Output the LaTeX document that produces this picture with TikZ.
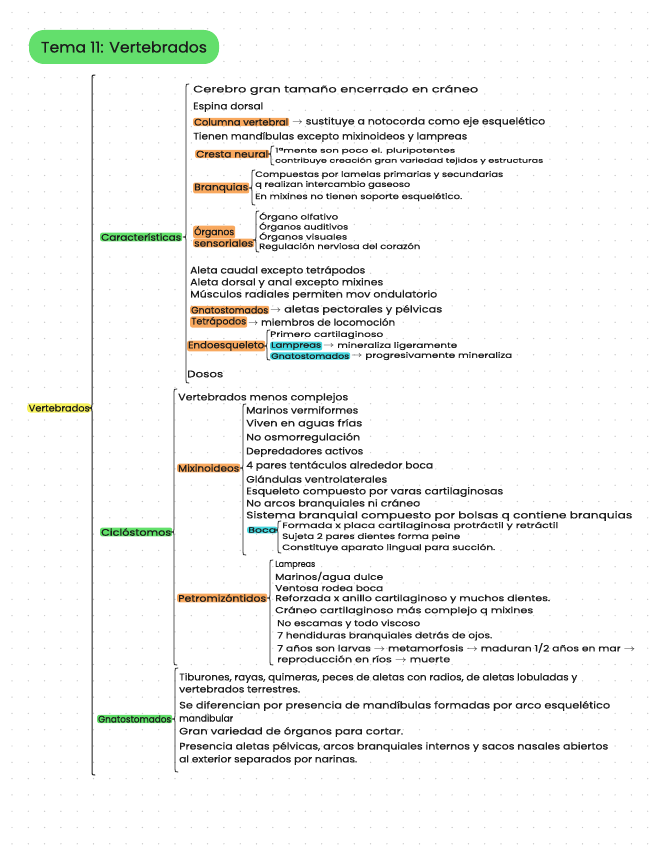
\documentclass[tikz,border=0pt]{standalone}
\usepackage{fontspec}
\setmainfont{Poppins}[FakeBold=0.5]
\usepackage{graphicx}
\definecolor{ink}{HTML}{1C1C1C}
\definecolor{dotc}{HTML}{C9C9C9}
\definecolor{hlorange}{HTML}{F8A85E}
\definecolor{hlgreen}{HTML}{62E06A}
\definecolor{hlcyan}{HTML}{45D8E0}
\definecolor{hlyellow}{HTML}{F6F25C}
\definecolor{titlegreen}{HTML}{63DF6C}
\tikzset{
  txt/.style={anchor=west, inner sep=0pt, text=ink, font=\fontsize{9.5}{11}\selectfont},
  smalltxt/.style={font=\fontsize{7.8}{9}\selectfont},
  tinytxt/.style={font=\fontsize{6.6}{8}\selectfont},
  midtxt/.style={font=\fontsize{8.6}{10}\selectfont},
  hlo/.style={fill=hlorange, inner xsep=1pt, inner ysep=0.6pt, rounded corners=2pt},
  hlg/.style={fill=hlgreen, inner xsep=1pt, inner ysep=0.6pt, rounded corners=2pt},
  hlc/.style={fill=hlcyan, inner xsep=1pt, inner ysep=0.6pt, rounded corners=2pt},
  hly/.style={fill=hlyellow, inner xsep=1.5pt, inner ysep=1pt, rounded corners=3pt},
  brc/.style={draw=ink, line width=0.8pt, line cap=round, line join=round},
  titlebox/.style={fill=titlegreen, rounded corners=15pt, minimum width=190pt, minimum height=34pt, inner sep=0pt, text=ink, font=\fontsize{15}{17}\selectfont}
}
\newcommand{\tline}[5][]{\node[txt,#1] (#2) at (#3) {\resizebox{#4pt}{\height}{#5}};}
\newcommand{\brc}[5][]{\draw[brc,#1] (#2+3,#3) .. controls (#2,#3) .. (#2,#3+3) -- (#2,#4-3) .. controls (#2,#4) .. (#2-3,#4) .. controls (#2,#4) .. (#2,#4+3) -- (#2,#5-3) .. controls (#2,#5) .. (#2+3,#5);}
\begin{document}
\begin{tikzpicture}[x=1pt,y=-1pt]
\useasboundingbox (0,0) rectangle (656,848);
\fill[white] (0,0) rectangle (656,848);
\foreach \i in {0,...,39} \foreach \j in {0,...,51} \fill[dotc] (12+16.3*\i,12.5+16.3*\j) circle (0.7pt);
% title
\node[titlebox] (title) at (124,47) {\resizebox{166pt}{\height}{Tema 11: Vertebrados}};
% root
\tline[hly]{vert}{27,408}{61}{Vertebrados}
\brc[line width=1pt]{92}{75}{408}{775}
% Caracteristicas
\tline[hlg]{car}{100,237}{80}{Características}
\brc{186}{84}{237}{383}
\tline{c1}{193,90}{285}{Cerebro gran tamaño encerrado en cráneo}
\tline{c2}{193,107}{70}{Espina dorsal}
\tline[hlo]{c3a}{193,122}{94}{Columna vertebral}
\tline{c3b}{292,122}{253}{\(\rightarrow\) sustituye a notocorda como eje esquelético}
\tline{c4}{193,137}{274}{Tienen mandíbulas excepto mixinoideos y lampreas}
\tline[hlo]{c5}{195,154}{72}{Cresta neural}
\brc{271}{146}{154}{165}
\tline[tinytxt]{c5a}{275,151}{180}{1ªmente son poco el. pluripotentes}
\tline[tinytxt]{c5b}{275,161}{268}{contribuye creación gran variedad tejidos y estructuras}
\tline[hlo]{c6}{193,188}{54}{Branquias}
\brc{252}{170}{188}{205}
\tline[smalltxt]{c6a}{255,175}{248}{Compuestas por lamelas primarias y secundarias}
\tline[smalltxt]{c6b}{255,185}{155}{q realizan intercambio gaseoso}
\tline[smalltxt]{c6c}{255,197}{207}{En mixines no tienen soporte esquelético.}
\tline[hlo]{c7a}{193,232}{40}{Órganos}
\tline[hlo]{c7b}{193,243}{59}{sensoriales}
\brc{256}{211}{240}{252}
\tline[smalltxt]{c7c}{259,217}{79}{Órgano olfativo}
\tline[smalltxt]{c7d}{259,227}{89}{Órganos auditivos}
\tline[smalltxt]{c7e}{259,237}{88}{Órganos visuales}
\tline[smalltxt]{c7f}{259,247}{161}{Regulación nerviosa del corazón}
\tline{c8}{190,271}{175}{Aleta caudal excepto tetrápodos}
\tline{c9}{190,283}{193}{Aleta dorsal y anal excepto mixines}
\tline{c10}{190,295}{247}{Músculos radiales permiten mov ondulatorio}
\tline[hlo]{c11a}{190,310}{77}{Gnatostomados}
\tline{c11b}{270,310}{172}{\(\rightarrow\) aletas pectorales y pélvicas}
\tline[hlo]{c12a}{190,322}{55}{Tetrápodos}
\tline{c12b}{248,322}{147}{\(\rightarrow\) miembros de locomoción}
\tline[hlo]{c13}{187,346}{76}{Endoesqueleto}
\brc{267}{330}{346}{360}
\tline[smalltxt]{c13a}{270,335}{113}{Primero cartilaginoso}
\tline[smalltxt,hlc]{c13b}{270,346}{50}{Lampreas}
\tline[smalltxt]{c13c}{323,346}{134}{\(\rightarrow\) mineraliza ligeramente}
\tline[smalltxt,hlc]{c13d}{270,356}{78}{Gnatostomados}
\tline[smalltxt]{c13e}{351,356}{161}{\(\rightarrow\) progresivamente mineraliza}
\tline{c14}{187,374}{36}{Dosos}
% Ciclostomos
\tline[hlg]{cic}{100,532}{70}{Ciclóstomos}
\brc{174}{389}{532}{665}
\tline{k1}{178,398}{170}{Vertebrados menos complejos}
\tline[hlo]{mix}{177,468}{61}{Mixinoideos}
\brc{243}{404}{468}{555}
\tline{m1}{246,410}{112}{Marinos vermiformes}
\tline{m2}{246,424}{116}{Viven en aguas frías}
\tline{m3}{246,438}{114}{No osmorregulación}
\tline{m4}{246,452}{117}{Depredadores activos}
\tline{m5}{246,466}{187}{4 pares tentáculos alrededor boca}
\tline{m6}{246,479}{141}{Glándulas ventrolaterales}
\tline{m7}{246,492}{257}{Esqueleto compuesto por varas cartilaginosas}
\tline{m8}{246,504}{174}{No arcos branquiales ni cráneo}
\tline{m9}{246,516}{386}{Sistema branquial compuesto por bolsas q contiene branquias}
\tline[smalltxt,hlc]{boca}{247,530}{28}{Boca}
\brc{278}{521}{530}{553}
\tline[smalltxt]{b1}{282,526}{276}{Formada x placa cartilaginosa protráctil y retráctil}
\tline[smalltxt]{b2}{282,537}{178}{Sujeta 2 pares dientes forma peine}
\tline[smalltxt]{b3}{282,548}{213}{Constituye aparato lingual para succión.}
\tline[hlo]{pet}{177,598}{88}{Petromizóntidos}
\brc{270}{560}{598}{665}
\tline[midtxt]{p1}{275,565}{40}{Lampreas}
\tline[midtxt]{p2}{275,577}{108}{Marinos/agua dulce}
\tline[midtxt]{p3}{275,588}{108}{Ventosa rodea boca}
\tline[midtxt]{p4}{275,599}{275}{Reforzada x anillo cartilaginoso y muchos dientes.}
\tline[midtxt]{p5}{275,611}{258}{Cráneo cartilaginoso más complejo q mixines}
\tline[midtxt]{p6}{277,624}{143}{No escamas y todo viscoso}
\tline[midtxt]{p7}{277,636}{215}{7 hendiduras branquiales detrás de ojos.}
\tline[midtxt]{p8}{277,648}{358}{7 años son larvas \(\rightarrow\) metamorfosis \(\rightarrow\) maduran 1/2 años en mar \(\rightarrow\)}
\tline[midtxt]{p9}{277,660}{173}{reproducción en ríos \(\rightarrow\) muerte}
% Gnatostomados
\tline[hlg]{gna}{97,719}{73}{Gnatostomados}
\brc{175}{668}{719}{772}
\tline{g1}{179,678}{398}{Tiburones, rayas, quimeras, peces de aletas con radios, de aletas lobuladas y}
\tline{g2}{179,689}{121}{vertebrados terrestres.}
\tline{g3}{179,706}{431}{Se diferencian por presencia de mandíbulas formadas por arco esquelético}
\tline{g4}{179,718}{54}{mandibular}
\tline{g5}{179,732}{224}{Gran variedad de órganos para cortar.}
\tline{g6}{179,747}{429}{Presencia aletas pélvicas, arcos branquiales internos y sacos nasales abiertos}
\tline{g7}{179,760}{178}{al exterior separados por narinas.}
\end{tikzpicture}
\end{document}
